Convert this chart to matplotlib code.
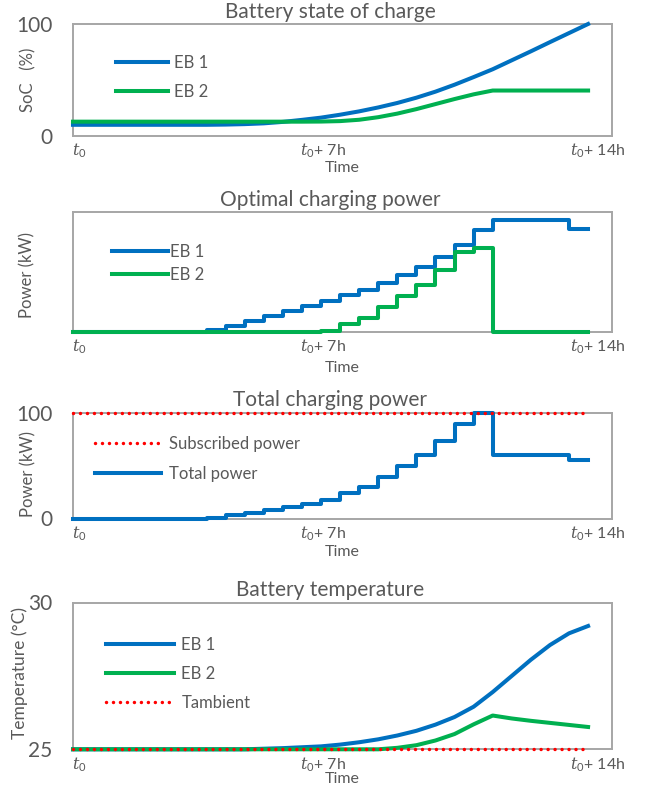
import matplotlib as mpl
import matplotlib.pyplot as plt
import numpy as np

mpl.rcParams["font.family"] = ["Lato", "DejaVu Sans"]
mpl.rcParams["mathtext.fontset"] = "custom"
mpl.rcParams["mathtext.rm"] = "Lato"
mpl.rcParams["mathtext.it"] = "DejaVu Serif:italic"

# --- Data (half-hour-ish steps over 14 h) ---
steps = np.arange(28)
hours = steps * 14 / 27

soc_eb1 = [10, 10, 10, 10, 10, 10, 10, 10, 10.2, 10.6, 11.3, 12.6, 14.4, 16.4,
           19.0, 22.0, 25.5, 29.5, 34.2, 39.6, 45.8, 52.6, 59.6, 67.6, 75.6,
           83.8, 91.9, 100]
soc_eb2 = [12.8] * 13 + [12.9, 13.3, 14.5, 16.8, 20.0, 24.0, 28.5, 33.0, 37.2,
                         40.6, 40.6, 40.6, 40.6, 40.6, 40.6]

power_eb1 = [0] * 7 + [0.7, 3.0, 5.6, 8.4, 11.0, 13.8, 16.6, 19.9, 22.6, 26.1,
                       30.3, 34.7, 40.4, 46.9, 55.0, 60.0, 60.0, 60.0, 60.0,
                       55.5, 55.5]
power_eb2 = [0] * 13 + [0.5, 3.9, 7.6, 13.3, 19.2, 25.1, 33.3, 43.1, 45.0] + [0] * 6
power_total = np.array(power_eb1) + np.array(power_eb2)
subscribed = [100] * 28

temp_eb1 = [25.0] * 10 + [25.02, 25.04, 25.07, 25.1, 25.16, 25.24, 25.34, 25.47,
                          25.63, 25.84, 26.1, 26.45, 26.95, 27.5, 28.05, 28.55,
                          28.95, 29.2]
temp_eb2 = [25.0] * 17 + [25.05, 25.14, 25.3, 25.52, 25.85, 26.15, 26.05, 25.97,
                          25.9, 25.83, 25.76]
temp_amb = [25] * 28

xtick_pos = [0.16, 6.8, 14.25]
xtick_labels = [r"$t_0$", r"$t_0$+ 7h", r"$t_0$+ 14h"]

BLUE = "#0070C0"
GREEN = "#00B050"
RED = "#FF0000"
TXT = "#595959"
FRAME = "#A6A6A6"
LW = 2.9
dots = dict(color=RED, lw=2.5, linestyle=(0, (0.01, 2.0)), dash_capstyle="round")

W, H = 648, 787
fig = plt.figure(figsize=(W / 100, H / 100), dpi=100)


def make_ax(top, bottom, left=73, right=612):
    return fig.add_axes([left / W, 1 - bottom / H, (right - left) / W, (bottom - top) / H])


def style(ax, title, ylabel, ylab_xy, time_off, ylim, yticks, ylab_size=12):
    ax.set_xlim(0, 14.65)
    ax.set_ylim(*ylim)
    for sp in ax.spines.values():
        sp.set_color(FRAME)
        sp.set_linewidth(1.4)
    ax.set_xticks(xtick_pos)
    ax.set_xticklabels(xtick_labels)
    ax.set_yticks(yticks)
    ax.tick_params(length=0, colors=TXT)
    ax.tick_params(axis="x", labelsize=11.5, pad=4)
    ax.tick_params(axis="y", labelsize=15, pad=15)
    ax.annotate(title, xy=(0.477, 1), xycoords="axes fraction", xytext=(0, 9),
                textcoords="offset points", ha="center", va="center",
                fontsize=15, color=TXT)
    ax.annotate("Time", xy=(0.5, 0), xycoords="axes fraction",
                xytext=(0, -time_off * 0.72), textcoords="offset points",
                ha="center", va="center", fontsize=11.5, color=TXT)
    ax.text(ylab_xy[0], ylab_xy[1], ylabel, rotation=90, ha="center", va="center",
            transform=ax.transAxes, fontsize=ylab_size, color=TXT)


def legend(ax, anchor, hl, htp, ls):
    leg = ax.legend(loc="center left", bbox_to_anchor=anchor, frameon=False,
                    borderpad=0, borderaxespad=0, handlelength=hl,
                    handletextpad=htp, labelspacing=ls, fontsize=12)
    for t in leg.get_texts():
        t.set_color(TXT)


# --- Battery state of charge ---
ax1 = make_ax(24, 136)
ax1.plot(hours, soc_eb1, color=BLUE, lw=LW, label="EB 1", clip_on=False, zorder=3)
ax1.plot(hours, soc_eb2, color=GREEN, lw=LW, label="EB 2", clip_on=False, zorder=3)
style(ax1, "Battery state of charge", "SoC   (%)", (-0.083, 0.5), 32, (0, 100), [0, 100])
legend(ax1, (0.08, 0.52), 3.1, 0.36, 0.78)

# --- Optimal charging power ---
ax2 = make_ax(212, 331.7)
ax2.plot(hours, power_eb1, color=BLUE, lw=LW, drawstyle="steps-post", label="EB 1",
         clip_on=False, zorder=3)
ax2.plot(hours, power_eb2, color=GREEN, lw=LW, drawstyle="steps-post", label="EB 2",
         clip_on=False, zorder=3)
style(ax2, "Optimal charging power", "Power (kW)", (-0.085, 0.474), 36, (0, 64.5), [])
legend(ax2, (0.072, 0.568), 3.4, 0.12, 0.42)

# --- Total charging power ---
ax3 = make_ax(413, 518.5)
ax3.plot(hours, subscribed, label="Subscribed power", clip_on=False, zorder=4, **dots)
ax3.plot(hours, power_total, color=BLUE, lw=LW, drawstyle="steps-post",
         label="Total power", clip_on=False, zorder=3)
style(ax3, "Total charging power", "Power (kW)", (-0.082, 0.42), 34, (0, 100), [0, 100])
legend(ax3, (0.04, 0.564), 4.0, 0.45, 0.8)

# --- Battery temperature ---
ax4 = make_ax(602.5, 749.3)
ax4.plot(hours, temp_eb1, color=BLUE, lw=LW, label="EB 1", clip_on=False, zorder=3)
ax4.plot(hours, temp_eb2, color=GREEN, lw=LW, label="EB 2", clip_on=False, zorder=3)
ax4.plot(hours, temp_amb, label="Tambient", clip_on=False, zorder=4, **dots)
style(ax4, "Battery temperature", "Temperature (°C)", (-0.098, 0.52), 30, (25, 30),
      [25, 30], ylab_size=12.5)
legend(ax4, (0.061, 0.516), 4.07, 0.46, 0.78)

fig.savefig("out.png", dpi=100)
